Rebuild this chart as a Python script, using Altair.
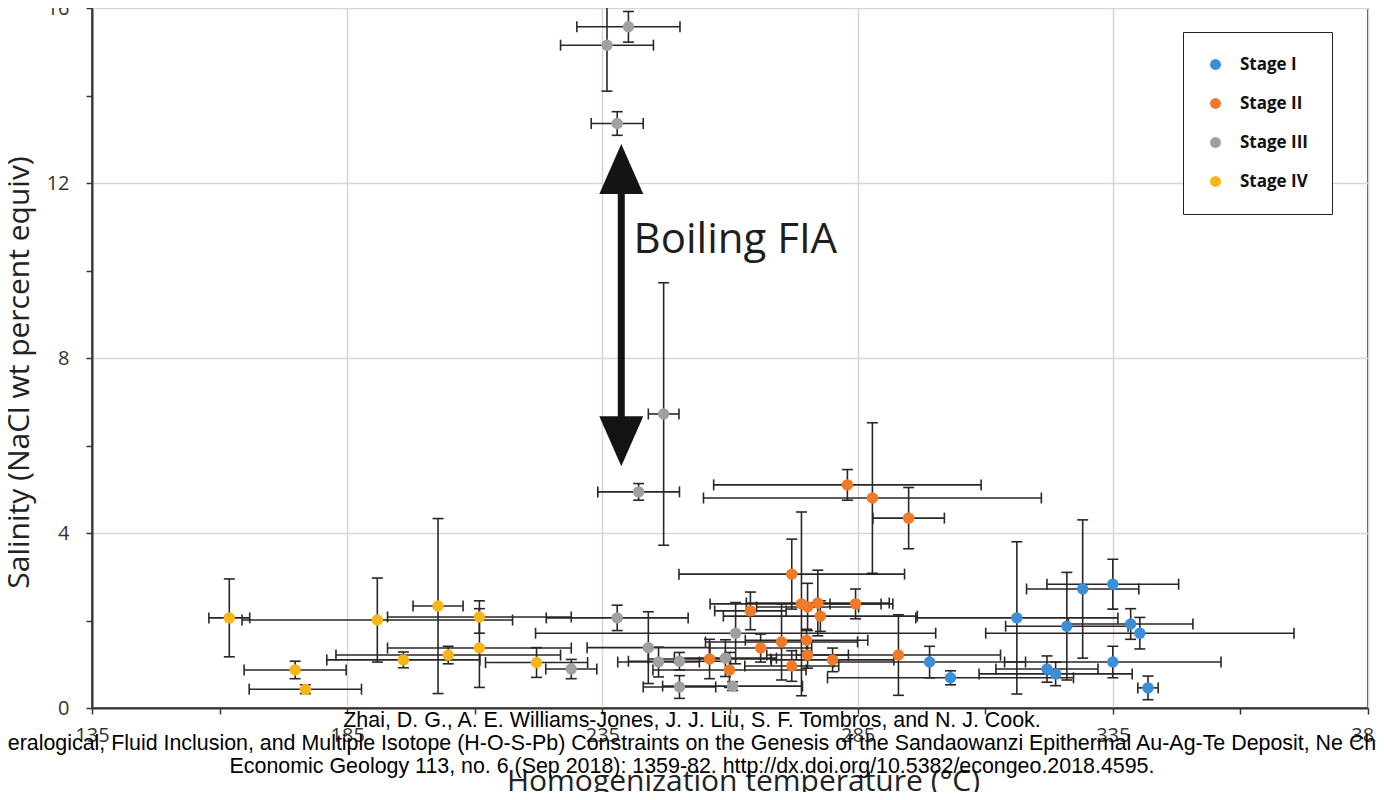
import altair as alt
import pandas as pd

# ---------------- data ----------------
stages = ["Stage I", "Stage II", "Stage III", "Stage IV"]
colors = ["#3b8ed8", "#f07a28", "#a29f9f", "#f7b617"]

s1_x = [316.2, 326.0, 329.1, 335.0, 338.5, 340.3, 335.0, 341.9, 322.1, 323.8, 303.2, 299.1]
s1_y = [2.06, 1.87, 2.72, 2.83, 1.92, 1.71, 1.05, 0.46, 0.89, 0.78, 0.69, 1.05]
s1_xe = [19.8, 12.0, 11.0, 12.9, 12.2, 30.2, 21.2, 2.0, 10.0, 15.0, 24.1, 18.8]
s1_ye = [1.74, 1.23, 1.58, 0.57, 0.35, 0.36, 0.36, 0.27, 0.30, 0.27, 0.16, 0.36]

s2_x = [283.0, 287.9, 295.0, 272.1, 264.0, 274.0, 275.2, 277.2, 277.7, 284.6, 266.0, 270.1,
        275.0, 275.2, 272.1, 280.1, 293.0, 256.0, 259.9]
s2_y = [5.10, 4.80, 4.34, 3.06, 2.22, 2.38, 2.31, 2.40, 2.10, 2.38, 1.37, 1.51,
        1.55, 1.21, 0.96, 1.10, 1.21, 1.12, 0.87]
s2_xe = [26.2, 33.1, 7.0, 22.1, 7.0, 17.9, 10.0, 14.0, 19.0, 5.0, 10.0, 14.9,
         12.0, 8.0, 9.2, 12.0, 20.0, 12.0, 15.0]
s2_ye = [0.35, 1.72, 0.70, 0.80, 0.43, 2.10, 0.54, 0.75, 0.35, 0.34, 0.32, 0.87,
         0.25, 0.30, 0.35, 0.27, 0.92, 0.45, 0.40]

s3_x = [235.9, 240.1, 237.9, 247.0, 242.1, 237.9, 244.0, 246.0, 250.1, 250.1, 261.1, 259.1, 260.5, 228.9]
s3_y = [15.15, 15.57, 13.36, 6.72, 4.94, 2.06, 1.38, 1.05, 1.07, 0.48, 1.71, 1.14, 0.50, 0.89]
s3_xe = [9.1, 10.1, 5.1, 3.0, 8.0, 13.9, 12.0, 8.0, 10.0, 7.1, 39.2, 10.0, 13.7, 5.0]
s3_ye = [1.05, 0.35, 0.27, 3.0, 0.19, 0.29, 0.82, 0.34, 0.20, 0.26, 0.70, 0.42, 0.10, 0.22]

s4_x = [161.9, 190.9, 202.8, 210.9, 210.9, 222.1, 204.8, 196.0, 174.8, 176.8]
s4_y = [2.06, 2.01, 2.33, 2.08, 1.37, 1.04, 1.21, 1.10, 0.87, 0.43]
s4_xe = [4.0, 26.5, 4.9, 18.0, 18.0, 10.0, 22.0, 15.0, 10.0, 11.0]
s4_ye = [0.89, 0.96, 2.00, 0.37, 0.90, 0.34, 0.20, 0.18, 0.20, 0.10]

# annotation (double arrow + label), data units
arrow_x = [238.7]
arrow_head_top = [12.32]
arrow_head_bottom = [6.10]
label_x = [241.1]
label_y = [10.4]
label_text = "Boiling FIA"

x_title = "Homogenization temperature (°C)"
y_title = "Salinity (NaCl wt percent equiv)"
citation = [
    "Zhai, D. G., A. E. Williams-Jones, J. J. Liu, S. F. Tombros, and N. J. Cook.",
    "Mineralogical, Fluid Inclusion, and Multiple Isotope (H-O-S-Pb) Constraints on the Genesis of the Sandaowanzi Epithermal Au-Ag-Te Deposit, Ne China.",
    "Economic Geology 113, no. 6 (Sep 2018): 1359-82. http://dx.doi.org/10.5382/econgeo.2018.4595.",
]

# ---------------- tables ----------------
rows = []
for name, xs, ys, xes, yes in [
    ("Stage I", s1_x, s1_y, s1_xe, s1_ye),
    ("Stage II", s2_x, s2_y, s2_xe, s2_ye),
    ("Stage III", s3_x, s3_y, s3_xe, s3_ye),
    ("Stage IV", s4_x, s4_y, s4_xe, s4_ye),
]:
    for a, b, c, d in zip(xs, ys, xes, yes):
        rows.append(dict(stage=name, x=a, y=b, xlo=a - c, xhi=a + c, ylo=b - d, yhi=b + d))
df = pd.DataFrame(rows)
caps_x = pd.concat([df.assign(cx=df.xlo), df.assign(cx=df.xhi)], ignore_index=True)
caps_y = pd.concat([df.assign(cy=df.ylo), df.assign(cy=df.yhi)], ignore_index=True)

FONT = "Open Sans"
AXC = "#3a3434"
EBC = "#2b2626"

xscale = alt.Scale(domain=[135, 385], nice=False, zero=False)
yscale = alt.Scale(domain=[0, 16], nice=False, zero=False)

xaxis = alt.Axis(
    values=list(range(135, 386, 25)),
    labelExpr="(datum.value - 135) % 50 == 0 ? datum.label : ''",
    gridOpacity={"condition": {"test": "(datum.value - 135) % 50 != 0", "value": 0}, "value": 1},
    labelFlush=False, labelOverlap=False,
    labelFont=FONT, labelFontSize=20, labelColor="#333333", labelPadding=11,
    titleFont=FONT, titleFontSize=30, titleFontWeight="normal", titleColor="#222222",
    titleX=651, titleY=82, titleBaseline="alphabetic", titleAlign="center",
    gridColor="#dcd4d4", gridWidth=1.5,
    domainColor=AXC, domainWidth=2, tickColor=AXC, tickWidth=1.5, tickSize=6,
)
yaxis = alt.Axis(
    values=list(range(0, 17, 2)),
    labelExpr="datum.value % 4 == 0 ? datum.label : ''",
    gridOpacity={"condition": {"test": "datum.value % 4 != 0", "value": 0}, "value": 1},
    labelFlush=False, labelOverlap=False,
    labelFont=FONT, labelFontSize=20, labelColor="#333333", labelPadding=17,
    titleFont=FONT, titleFontSize=30, titleFontWeight="normal", titleColor="#222222",
    titleX=-64, titleY=364, titleBaseline="alphabetic", titleAlign="center", titleAngle=270,
    gridColor="#dcd4d4", gridWidth=1.5,
    domainColor=AXC, domainWidth=2, tickColor=AXC, tickWidth=1.5, tickSize=6,
)


def X(field):
    return alt.X(field, type="quantitative", scale=xscale, axis=xaxis, title=x_title)


def Y(field):
    return alt.Y(field, type="quantitative", scale=yscale, axis=yaxis, title=y_title)


xbars = alt.Chart(df).mark_rule(color=EBC, strokeWidth=1.6, clip=True).encode(
    x=X("xlo"), x2="xhi:Q", y=Y("y"))
ybars = alt.Chart(df).mark_rule(color=EBC, strokeWidth=1.6, clip=True).encode(
    x=X("x"), y=Y("ylo"), y2="yhi:Q")
xcaps = alt.Chart(caps_x).mark_tick(orient="vertical", size=11, thickness=1.6, color=EBC,
                                    opacity=1, clip=True).encode(x=X("cx"), y=Y("y"))
ycaps = alt.Chart(caps_y).mark_tick(orient="horizontal", size=11, thickness=1.6, color=EBC,
                                    opacity=1, clip=True).encode(x=X("x"), y=Y("cy"))

points = alt.Chart(df).mark_circle(size=130, opacity=1).encode(
    x=X("x"), y=Y("y"),
    color=alt.Color("stage:N", scale=alt.Scale(domain=stages, range=colors),
                    legend=alt.Legend(title=None, orient="none", legendX=1091, legendY=24,
                                      padding=24, strokeColor="#222222", fillColor="white",
                                      labelFont=FONT, labelFontSize=17, labelFontWeight="bold",
                                      labelColor="#111111", symbolType="circle", symbolSize=120,
                                      symbolStrokeWidth=0, symbolOpacity=1, rowPadding=21,
                                      labelOffset=16)),
)

ann = pd.DataFrame({"x": arrow_x, "top": arrow_head_top, "bot": arrow_head_bottom})
shaft = alt.Chart(ann).mark_rule(color="#141414", strokeWidth=7).encode(
    x=X("x"), y=Y("top"), y2="bot:Q")
head_up = alt.Chart(ann).mark_point(shape="M0,-1L0.88,1L-0.88,1Z", size=2500, filled=True,
                                    color="#141414", opacity=1, strokeWidth=0).encode(
    x=X("x"), y=Y("top"))
head_down = alt.Chart(ann).mark_point(shape="M0,1L0.88,-1L-0.88,-1Z", size=2500, filled=True,
                                      color="#141414", opacity=1, strokeWidth=0).encode(
    x=X("x"), y=Y("bot"))

lab = pd.DataFrame({"x": label_x, "y": label_y})
boil = alt.Chart(lab).mark_text(text=label_text, font=FONT, fontSize=42, align="left",
                                baseline="alphabetic", color="#1e1e1e").encode(
    x=X("x"), y=Y("y"))

cite = alt.Chart(pd.DataFrame({"a": [0]})).mark_text(
    text=citation, font="Liberation Sans", fontSize=21.4, lineHeight=23, align="center",
    baseline="top", color="#000000").encode(x=alt.value(600), y=alt.value(702))

chart = alt.layer(xbars, ybars, xcaps, ycaps, points, shaft, head_up, head_down, boil, cite).properties(
    width=1276, height=700,
    autosize=alt.AutoSizeParams(type="none"),
    padding={"left": 84, "top": 0, "right": 8, "bottom": 84},
    background="white",
).configure_view(stroke="#4a4545", strokeWidth=2)

chart.save("out.html", embed_options={"renderer": "svg", "actions": False})
